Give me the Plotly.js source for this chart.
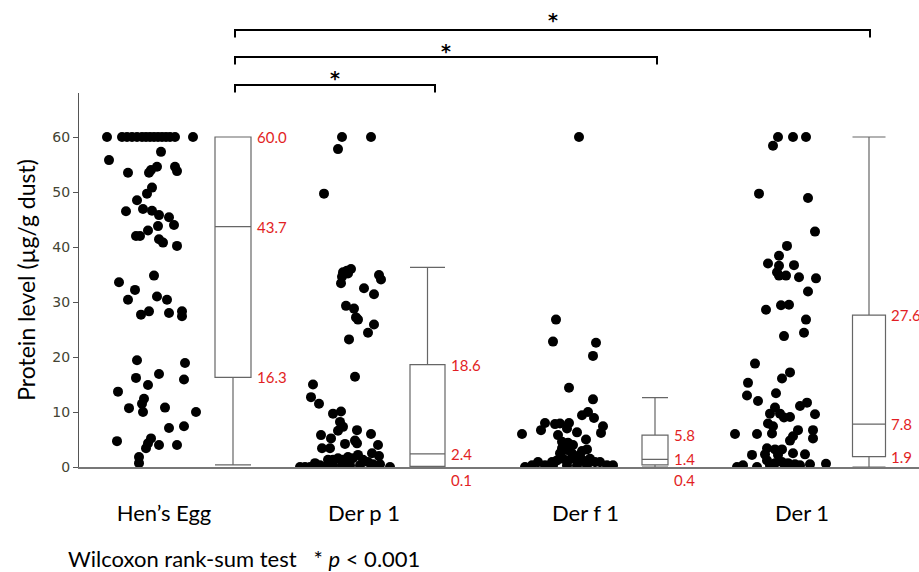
<!DOCTYPE html>
<html>
<head>
<meta charset="utf-8">
<script src="https://cdn.plot.ly/plotly-3.0.1.min.js"></script>
<style>html,body{margin:0;padding:0;background:#fff;}#chart{width:919px;height:572px;}</style>
</head>
<body>
<div id="chart"></div>
<script>
// ---------------- DATA ----------------
const categories = ["Hen’s Egg", "Der p 1", "Der f 1", "Der 1"];

// Protein level of each sample (µg/g dust)
const henEggValues = [60,60,60,60,60,60,60,60,60,60,60,60,60,60,60,
  57.3,55.8,53.5,53.5,54.0,54.6,54.6,53.8,50.8,49.7,48.5,46.5,46.9,46.6,45.8,45.4,43.8,44.0,43.0,42.0,42.0,41.4,40.8,40.2,
  34.8,33.6,32.2,30.4,31.0,30.4,28.3,27.7,28.0,28.3,27.4,
  19.4,18.9,16.9,16.2,15.9,14.9,13.7,12.4,11.5,10.7,10.0,10.8,10.0,7.1,7.4,4.7,5.2,4.3,3.4,4.0,4.0,1.8,0.7];
const henEggJitter = [-43,-28,-23,-18,-13,-8,-4,0,4,8,12,16,20,25,43,
  11,-41,-22,-1,1,7,25,27,2,-3,-13,-24,-7,2,9,19,8,24,-2,-14,-10,9,13,27,
  4,-31,-15,-22,7,17,-1,-9,19,32,32,
  -13,35,9,-14,34,-2,-32,-6,-8,-21,-7,15,46,19,34,-33,1,-2,-4,9,27,-11,-11];

const derP1Values = [60,60,57.8,49.7,36.0,35.7,35.4,34.6,35.2,33.4,34.9,34.1,32.5,31.4,29.3,28.8,26.8,27.2,25.9,24.4,23.2,
  16.4,15.0,12.7,11.5,9.7,10.1,8.2,7.3,6.6,6.7,6.0,5.8,5.2,4.2,4.8,4.3,4.0,3.4,3.4,2.5,2.0,
  0,0,0.7,0.3,1.3,1.3,1.6,1.3,1.8,1.6,2.2,1.3,0.9,0.5,0.5,0,0.3,0.3,0.3,0.3,0,0];
const derP1Jitter = [-3,26,-7,-21,6,2,-2,-3,3,-4,34,36,19,29,1,9,13,11,29,23,4,
  10,-32,-34,-26,-12,-4,-5,-2,-7,12,26,-24,-14,0,10,12,33,-23,-15,27,34,
  -45,-40,-30,-25,-17,-12,-7,-2,3,8,13,18,23,28,35,45,-12,-3,5,15,-20,-35];

const derF1Values = [60,26.8,22.8,22.6,20.2,14.4,12.3,9.4,10.0,8.9,8.0,7.8,7.9,8.0,7.4,6.2,6.7,7.0,6.3,6.0,5.8,5.0,4.6,4.4,4.0,3.4,3.1,2.9,3.2,2.2,
  0,0.3,0.9,0.9,1.2,1.5,1.2,1.5,1.2,1.5,0.9,0.9,0.3,0.3,0.3,0.3,0.3,0.3,0.3,2.5,2.5];
const derF1Jitter = [14,-9,-12,31,28,4,28,17,23,29,-20,-10,-5,4,38,36,-24,2,12,-43,-7,21,-3,3,8,-3,2,17,22,15,
  -40,-33,-27,-13,-8,-2,3,10,18,25,30,35,48,-20,-12,2,12,22,42,-5,7];

const der1Values = [60,60,60,58.4,49.7,48.9,42.8,40.2,38.4,37.0,36.6,36.7,35.4,34.8,34.8,34.5,34.3,31.9,28.6,29.4,29.5,26.8,24.4,23.8,
  18.8,17.2,16.1,15.3,13.0,13.4,12.0,11.7,11.1,10.8,9.7,9.7,9.1,9.6,7.9,7.4,9.0,6.1,6.0,6.0,6.7,6.7,5.6,5.2,4.8,3.4,3.2,3.2,2.2,2.3,2.3,2.2,2.5,
  0,0.3,0,0.7,0.9,0.7,0.5,0.3,0.3,0.3,0.5,0.6,1.2];
const der1Jitter = [-5,10,23,-10,-24,25,32,4,-4,-15,-4,11,-6,-4,3,16,33,25,-17,-2,6,23,21,1,
  -28,7,-1,-35,-36,-7,-25,24,17,-8,-13,-3,7,32,-15,-10,1,-11,-48,-26,15,30,10,30,7,-16,-8,-1,-31,-18,22,-5,10,
  -46,-40,-26,-8,-1,5,12,-13,2,17,27,43,-16];

// Box summaries: [q1, median, q3, lower whisker, upper whisker]
const q1Values     = [16.3, 0.1, 0.4, 1.9];
const medianValues = [43.7, 2.4, 1.4, 7.8];
const q3Values     = [60.0, 18.6, 5.8, 27.6];
const lowerWhisker = [0.4, 0.0, 0.0, 0.0];
const upperWhisker = [60.0, 36.3, 12.6, 60.0];
const q1Labels     = ["16.3", "0.1", "0.4", "1.9"];
const medianLabels = ["43.7", "2.4", "1.4", "7.8"];
const q3Labels     = ["60.0", "18.6", "5.8", "27.6"];

const yTickValues = [0, 10, 20, 30, 40, 50, 60];
const footnote = "Wilcoxon rank-sum test&nbsp;&nbsp;&nbsp;* <i>p</i> &lt; 0.001";
const sigMark = "*";

// ---------------- LAYOUT CONSTANTS ----------------
const xRange = [0, 8.4];
const scatterCenters = [0.71, 2.66, 4.86, 7.04];
const boxCenters = [1.54, 3.485, 5.76, 7.90];
const boxWidths = [0.36, 0.35, 0.26, 0.33];
const labelPositions = [0.85, 2.85, 5.065, 7.23];
const bracketEnds = [1.56, 3.56, 5.78, 7.91];
const jitterScale = 0.01;
const RED = "rgb(226,30,36)";
const BOXLINE = "#666666";
const FONT = "Lato, 'Noto Sans', sans-serif";

const groups = [
  {v: henEggValues, j: henEggJitter},
  {v: derP1Values, j: derP1Jitter},
  {v: derF1Values, j: derF1Jitter},
  {v: der1Values, j: der1Jitter}
];

const traces = [];
groups.forEach((g, i) => {
  traces.push({
    type: "scatter", mode: "markers",
    x: g.j.map(d => scatterCenters[i] + d * jitterScale),
    y: g.v,
    marker: {color: "#000", size: 10, line: {width: 0}},
    hoverinfo: "y", showlegend: false
  });
  traces.push({
    type: "box",
    x: [boxCenters[i]],
    q1: [q1Values[i]], median: [medianValues[i]], q3: [q3Values[i]],
    lowerfence: [lowerWhisker[i]], upperfence: [upperWhisker[i]],
    width: boxWidths[i], whiskerwidth: 1,
    fillcolor: "#ffffff",
    line: {color: BOXLINE, width: 1.2},
    boxpoints: false, showlegend: false, hoverinfo: "skip"
  });
});

const toPaper = x => (x - xRange[0]) / (xRange[1] - xRange[0]);

const annotations = [];
const labelFont = {family: FONT, size: 15, color: RED};
for (let i = 0; i < 4; i++) {
  const lx = boxCenters[i] + boxWidths[i] / 2 + 0.035;
  annotations.push({x: lx, y: q3Values[i], xref: "x", yref: "y", text: q3Labels[i], showarrow: false, xanchor: "left", yanchor: "middle", font: labelFont});
  annotations.push({x: lx, y: medianValues[i], xref: "x", yref: "y", text: medianLabels[i], showarrow: false, xanchor: "left", yanchor: "middle", font: labelFont});
  if (q1Values[i] < 1) {
    annotations.push({x: lx, y: 0, xref: "x", yref: "y", text: q1Labels[i], showarrow: false, xanchor: "left", yanchor: "top", yshift: -2, font: labelFont});
  } else {
    annotations.push({x: lx, y: q1Values[i], xref: "x", yref: "y", text: q1Labels[i], showarrow: false, xanchor: "left", yanchor: "middle", font: labelFont});
  }
}

// significance brackets
const bracketLevels = [1.0214, 1.0963, 1.1684];
const starLevels = [1.048, 1.1203, 1.2032];
const bracketDrop = 0.02;
const shapes = [];
for (let k = 0; k < 3; k++) {
  const x0 = toPaper(bracketEnds[0]), x1 = toPaper(bracketEnds[k + 1]);
  const y = bracketLevels[k];
  shapes.push({
    type: "path", xref: "paper", yref: "paper",
    path: `M ${x0} ${y - bracketDrop} L ${x0} ${y} L ${x1} ${y} L ${x1} ${y - bracketDrop}`,
    line: {color: "#000", width: 2}
  });
  annotations.push({
    x: (x0 + x1) / 2, y: starLevels[k], xref: "paper", yref: "paper",
    text: "<b>" + sigMark + "</b>", showarrow: false, xanchor: "center", yanchor: "middle",
    yshift: -3,
    font: {family: "DejaVu Sans, sans-serif", size: 19, color: "#000"}
  });
}

annotations.push({
  x: -0.016, y: 0, xref: "paper", yref: "paper", yshift: -91,
  text: footnote, showarrow: false, xanchor: "left", yanchor: "middle",
  font: {family: FONT, size: 22, color: "#000"}
});

const layout = {
  width: 919, height: 572,
  margin: {l: 79, r: 0, t: 93, b: 105, pad: 0},
  paper_bgcolor: "#fff", plot_bgcolor: "#fff",
  showlegend: false,
  xaxis: {
    range: xRange, showgrid: false, zeroline: false,
    showline: true, linecolor: "#777", linewidth: 1.5,
    tickmode: "array", tickvals: labelPositions, ticktext: categories,
    ticks: "outside", ticklen: 26, tickcolor: "rgba(0,0,0,0)",
    tickfont: {family: FONT, size: 22, color: "#000"}
  },
  yaxis: {
    range: [0, 68], showgrid: false, zeroline: false,
    showline: true, linecolor: "#555", linewidth: 1,
    tickmode: "array", tickvals: yTickValues,
    ticks: "outside", ticklen: 5, tickcolor: "#555",
    tickfont: {family: "DejaVu Sans, sans-serif", size: 14, color: "#444433"},
    title: {text: "Protein level (µg/g dust)", standoff: 10,
      font: {family: FONT, size: 23, color: "#000"}}
  },
  shapes: shapes,
  annotations: annotations
};

Plotly.newPlot("chart", traces, layout, {displayModeBar: false, staticPlot: true});
</script>
</body>
</html>
